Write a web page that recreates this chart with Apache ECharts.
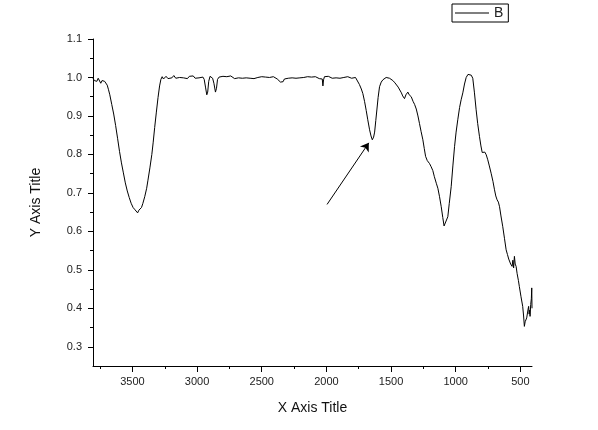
<!DOCTYPE html>
<html>
<head>
<meta charset="utf-8">
<script src="https://cdn.jsdelivr.net/npm/echarts@6/dist/echarts.min.js"></script>
<style>html,body{margin:0;padding:0;background:#fff;}#c{width:598px;height:430px;}</style>
</head>
<body>
<div id="c"></div>
<script>
// Wavenumbers (cm-1)
var wavenumbers = [
3805,3795,3785,3775,3765,3755,3745,3735,3725,3715,3705,3695,3685,3675,3660,3645,3630,3615,3600,3585,
3570,3555,3540,3525,3510,3495,3480,3470,3460,3450,3440,3430,3420,3405,3390,3380,3365,3350,3340,3328,
3315,3302,3290,3280,3270,3260,3250,3240,3225,3210,3195,3180,3165,3150,3135,3120,3105,3090,3075,3060,
3045,3030,3015,3000,2985,2970,2955,2945,2935,2925,2918,2910,2900,2890,2880,2870,2858,2850,2842,2830,
2815,2800,2785,2770,2755,2740,2725,2710,2695,2680,2665,2650,2635,2620,2605,2590,2575,2560,2545,2530,
2515,2500,2485,2470,2455,2440,2425,2410,2395,2380,2365,2355,2345,2335,2325,2310,2295,2280,2265,2250,
2235,2220,2205,2190,2175,2160,2145,2130,2115,2100,2085,2070,2055,2040,2032,2027,2022,2015,2000,1985,
1970,1955,1940,1925,1910,1895,1880,1865,1850,1835,1820,1805,1790,1775,1760,1745,1730,1718,1705,1692,
1680,1666,1655,1645,1635,1627,1618,1609,1600,1589,1576,1563,1550,1538,1525,1512,1500,1486,1470,1455,
1445,1434,1420,1410,1396,1385,1370,1360,1344,1330,1318,1305,1292,1280,1268,1254,1243,1233,1220,1210,
1202,1190,1177,1165,1150,1138,1125,1112,1100,1090,1085,1075,1061,1050,1035,1022,1009,997,984,970,
958,945,932,919,905,893,880,868,855,842,830,816,805,795,785,775,764,752,740,726,
712,700,690,680,670,661,650,636,623,610,600,590,584,575,564,558,552,546,540,533,
525,515,508,495,482,475,469,463,457,451,445,440,436,432,428,425,420,415,412,410
];
// Series B values
var seriesB = [
0.998,0.992,0.997,0.990,0.998,0.993,0.985,0.992,0.996,0.990,0.991,0.980,0.968,0.955,0.930,0.905,0.875,0.842,0.808,0.778,
0.752,0.726,0.705,0.688,0.673,0.662,0.656,0.652,0.648,0.655,0.652,0.662,0.672,0.690,0.712,0.733,0.765,0.800,0.830,0.870,
0.910,0.948,0.978,0.995,1.002,0.996,0.998,1.003,0.997,1.002,0.999,1.005,0.998,1.003,1.000,1.004,0.999,1.002,0.997,1.003,
1.000,1.004,0.998,1.002,0.999,1.003,1.001,0.995,0.975,0.955,0.962,0.990,1.003,1.005,0.998,0.985,0.962,0.972,0.995,1.001,
0.999,1.003,0.998,1.002,0.999,1.004,1.000,0.997,1.002,0.999,1.003,0.998,1.001,0.999,1.003,0.998,1.001,0.997,1.002,1.000,
0.998,1.002,0.999,1.001,0.997,1.000,0.998,1.002,0.999,0.996,0.992,0.988,0.991,0.989,0.996,1.000,0.998,1.002,0.999,1.003,
0.998,1.001,0.999,1.003,1.000,0.998,1.002,0.999,1.001,0.998,1.002,1.000,0.997,1.001,0.996,0.978,0.994,1.002,0.999,1.003,
1.000,0.998,1.002,0.999,1.001,0.998,1.002,1.000,0.999,1.002,1.000,0.998,1.001,1.000,0.995,0.982,0.970,0.958,0.938,0.914,
0.890,0.864,0.848,0.838,0.845,0.858,0.888,0.918,0.948,0.976,0.988,0.994,0.996,1.000,1.001,0.998,0.996,0.992,0.986,0.981,
0.975,0.970,0.960,0.952,0.945,0.955,0.962,0.955,0.950,0.938,0.930,0.918,0.900,0.880,0.860,0.838,0.815,0.795,0.784,0.780,
0.776,0.768,0.758,0.742,0.725,0.712,0.690,0.664,0.636,0.614,0.610,0.618,0.638,0.672,0.716,0.770,0.820,0.858,0.890,0.922,
0.942,0.960,0.983,1.000,1.008,1.012,1.006,0.998,0.960,0.916,0.880,0.846,0.822,0.805,0.803,0.806,0.799,0.786,0.770,0.751,
0.730,0.708,0.692,0.682,0.676,0.664,0.640,0.612,0.582,0.552,0.540,0.528,0.526,0.515,0.509,0.525,0.505,0.535,0.515,0.509,
0.490,0.472,0.457,0.430,0.405,0.380,0.353,0.365,0.360,0.375,0.380,0.398,0.405,0.385,0.395,0.379,0.410,0.425,0.453,0.400
];
var xMajorTicks = [3500,3000,2500,2000,1500,1000,500];
var xMinorTicks = [3750,3250,2750,2250,1750,1250,750];
var yMajorTicks = [0.3,0.4,0.5,0.6,0.7,0.8,0.9,1.0,1.1];
var yMinorTicks = [0.35,0.45,0.55,0.65,0.75,0.85,0.95,1.05];
var arrowStart = [1995, 0.67];
var arrowEnd = [1672, 0.83];

var pts = wavenumbers.map(function (w, i) { return [w, seriesB[i]]; });
var FONT = 'Liberation Sans, Arial, sans-serif';

var chart = echarts.init(document.getElementById('c'), null, {renderer: 'canvas'});
chart.setOption({
  animation: false,
  backgroundColor: '#fff',
  grid: {left: 93, right: 66, top: 39, bottom: 64, containLabel: false},
  legend: {
    left: 452, top: 4,
    data: [{name: 'B', icon: 'rect'}],
    borderColor: '#000', borderWidth: 1,
    padding: [1, 5, 1, 3],
    itemWidth: 34, itemHeight: 1, itemGap: 5,
    itemStyle: {color: '#000', borderWidth: 0},
    textStyle: {fontFamily: FONT, fontSize: 14, color: '#222', lineHeight: 16}
  },
  xAxis: [{
    type: 'value', inverse: true, min: 410, max: 3805,
    position: 'bottom',
    name: 'X Axis Title', nameLocation: 'middle', nameGap: 35,
    nameTextStyle: {fontFamily: FONT, fontSize: 14, color: '#111'},
    axisLine: {show: true, lineStyle: {color: '#000', width: 1}},
    axisTick: {show: true, length: 6, customValues: xMajorTicks, lineStyle: {color: '#000'}},
    axisLabel: {customValues: xMajorTicks, margin: 10, fontFamily: FONT, fontSize: 11, color: '#222',
      formatter: function (v) { return String(Math.round(v)); }},
    splitLine: {show: false}
  }, {
    type: 'value', inverse: true, min: 410, max: 3805,
    position: 'bottom',
    axisLine: {show: false},
    axisTick: {show: true, length: 3, customValues: xMinorTicks, lineStyle: {color: '#000'}},
    axisLabel: {show: false},
    splitLine: {show: false}
  }],
  yAxis: [{
    type: 'value', min: 0.25, max: 1.1,
    position: 'left',
    name: 'Y Axis Title', nameLocation: 'middle', nameGap: 50, nameRotate: 90,
    nameTextStyle: {fontFamily: FONT, fontSize: 14, color: '#111'},
    axisLine: {show: true, lineStyle: {color: '#000', width: 1}},
    axisTick: {show: true, length: 5, customValues: yMajorTicks, lineStyle: {color: '#000'}},
    axisLabel: {customValues: yMajorTicks, margin: 11, fontFamily: FONT, fontSize: 11, color: '#222',
      formatter: function (v) { return v.toFixed(1); }},
    splitLine: {show: false}
  }, {
    type: 'value', min: 0.25, max: 1.1,
    position: 'left',
    axisLine: {show: false},
    axisTick: {show: true, length: 3, customValues: yMinorTicks, lineStyle: {color: '#000'}},
    axisLabel: {show: false},
    splitLine: {show: false}
  }],
  series: [{
    name: 'B', type: 'line', xAxisIndex: 0, yAxisIndex: 0,
    data: pts, symbol: 'none', showSymbol: false,
    lineStyle: {color: '#000', width: 1}, itemStyle: {color: '#000'},
    markLine: {
      silent: true, animation: false,
      symbol: ['none', 'arrow'], symbolSize: 8,
      label: {show: false},
      lineStyle: {color: '#000', width: 1, type: 'solid'},
      data: [[{coord: arrowStart}, {coord: arrowEnd}]]
    }
  }]
});
</script>
</body>
</html>
